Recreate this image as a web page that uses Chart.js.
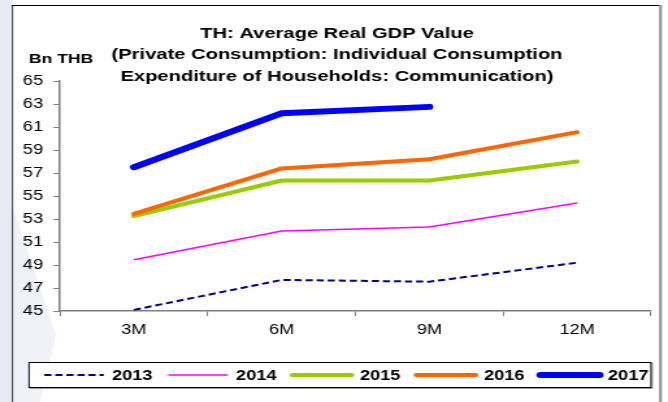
<!DOCTYPE html>
<html>
<head>
<meta charset="utf-8">
<script src="https://cdn.jsdelivr.net/npm/chart.js@4.4.1/dist/chart.umd.min.js"></script>
<style>
  html, body { margin: 0; padding: 0; background: #fff; }
  #gdpChart { display: block; }
</style>
</head>
<body>
<canvas id="gdpChart" width="514" height="402" style="width:668px;height:402px"></canvas>
<script>
const periods = ['3M', '6M', '9M', '12M'];
const gdp2013 = [45.1, 47.7, 47.55, 49.2];
const gdp2014 = [49.45, 51.95, 52.3, 54.4];
const gdp2015 = [53.25, 56.35, 56.35, 58.0];
const gdp2016 = [53.45, 57.4, 58.2, 60.55];
const gdp2017 = [57.5, 62.2, 62.75, null];
const yMin = 45;
const yMax = 65;
const yStep = 2;

const titleLines = [
    'TH: Average Real GDP Value',
    '(Private Consumption: Individual Consumption',
    'Expenditure of Households: Communication)'
];
const unitLabel = 'Bn THB';

const FONT = '"Liberation Sans", Arial, sans-serif';
// canvas is drawn narrower and stretched to 668px wide
const SX = 668 / 514;

const pageBackground = {
    id: 'pageBackground',
    beforeDraw(chart) {
        const ctx = chart.ctx;
        const w = chart.width, h = chart.height;
        ctx.save();
        ctx.fillStyle = '#fff';
        ctx.fillRect(0, 0, w, h);
        // lavender strip on the left
        ctx.fillStyle = '#e9e9f4';
        ctx.fillRect(0, 0, 12 / SX, h);
        // faint wedge in the lower left corner
        ctx.fillStyle = 'rgba(232,232,244,0.6)';
        ctx.beginPath();
        ctx.moveTo(12 / SX, 205);
        ctx.lineTo(56 / SX, 335);
        ctx.lineTo(40 / SX, h);
        ctx.lineTo(12 / SX, h);
        ctx.closePath();
        ctx.fill();
        // frame
        ctx.strokeStyle = '#000';
        ctx.lineWidth = 1;
        ctx.beginPath();
        ctx.moveTo(12 / SX, 5.5);
        ctx.lineTo(660 / SX, 5.5);
        ctx.stroke();
        ctx.lineWidth = 1 / SX;
        ctx.beginPath();
        ctx.moveTo(12.5 / SX, 5);
        ctx.lineTo(12.5 / SX, h);
        ctx.stroke();
        ctx.strokeStyle = '#9a9a9a';
        ctx.lineWidth = 3 / SX;
        ctx.beginPath();
        ctx.moveTo(660.5 / SX, 5);
        ctx.lineTo(660.5 / SX, h);
        ctx.stroke();
        ctx.restore();
    }
};

const titleBlock = {
    id: 'titleBlock',
    afterDraw(chart) {
        const ctx = chart.ctx;
        ctx.save();
        ctx.fillStyle = '#000';
        ctx.textBaseline = 'alphabetic';
        ctx.font = 'bold 15.5px ' + FONT;
        ctx.textAlign = 'center';
        titleLines.forEach((line, i) => {
            ctx.fillText(line, 337 / SX, 37.5 + i * 21.5);
        });
        ctx.textAlign = 'left';
        ctx.font = 'bold 13.5px ' + FONT;
        ctx.fillText(unitLabel, 29 / SX, 63);
        ctx.restore();
    }
};

const legendBox = {
    id: 'legendBox',
    afterDraw(chart) {
        const ctx = chart.ctx;
        const left = 29 / SX, right = 651 / SX;
        const top = 362.5, bottom = 387.5;
        ctx.save();
        ctx.strokeStyle = '#9a9a9a';
        ctx.lineWidth = 1;
        ctx.strokeRect(left + 1, top + 1, right - left, bottom - top);
        ctx.fillStyle = '#fff';
        ctx.fillRect(left, top, right - left, bottom - top);
        ctx.strokeStyle = '#000';
        ctx.strokeRect(left, top, right - left, bottom - top);
        chart.data.datasets.forEach((ds, i) => {
            const x = (43 + i * 124) / SX;
            const y = 375;
            ctx.beginPath();
            ctx.setLineDash(ds.borderDash || []);
            ctx.lineWidth = ds.borderWidth;
            ctx.strokeStyle = ds.borderColor;
            ctx.lineCap = ds.borderCapStyle || 'butt';
            ctx.moveTo(x + 1, y);
            ctx.lineTo(x + 62 / SX - 1, y);
            ctx.stroke();
            ctx.setLineDash([]);
            ctx.fillStyle = '#000';
            ctx.font = 'bold 14px ' + FONT;
            ctx.textBaseline = 'middle';
            ctx.textAlign = 'left';
            ctx.fillText(ds.label, x + 69 / SX, y + 1);
        });
        ctx.restore();
    }
};

const data = {
    labels: periods,
    datasets: [{
        label: '2013',
        data: gdp2013,
        borderColor: '#000080',
        borderWidth: 2,
        borderDash: [5.5, 3],
        order: 5
    }, {
        label: '2014',
        data: gdp2014,
        borderColor: '#ff00ff',
        borderWidth: 1.5,
        order: 4
    }, {
        label: '2015',
        data: gdp2015,
        borderColor: '#99cc00',
        borderWidth: 4,
        borderCapStyle: 'round',
        order: 3
    }, {
        label: '2016',
        data: gdp2016,
        borderColor: '#ff6600',
        borderWidth: 4,
        borderCapStyle: 'round',
        order: 2
    }, {
        label: '2017',
        data: gdp2017,
        borderColor: '#0000ff',
        borderWidth: 6,
        borderCapStyle: 'round',
        order: 1
    }]
};

const config = {
    type: 'line',
    data: data,
    options: {
        responsive: false,
        animation: false,
        devicePixelRatio: 1,
        clip: false,
        layout: { padding: { top: 81, left: 0, right: 514 - 651 / SX, bottom: 0 } },
        elements: {
            line: { tension: 0, fill: false, borderJoinStyle: 'round' },
            point: { radius: 0, hoverRadius: 0 }
        },
        plugins: {
            legend: { display: false },
            title: { display: false },
            tooltip: { enabled: false }
        },
        scales: {
            x: {
                offset: true,
                afterFit: (scale) => { scale.height = 402 - 311; },
                grid: {
                    display: true,
                    offset: true,
                    drawOnChartArea: false,
                    tickLength: 5,
                    color: '#7f7f7f',
                    lineWidth: 1
                },
                border: { color: '#7f7f7f', width: 1.5 },
                ticks: {
                    color: '#000',
                    padding: 6,
                    maxRotation: 0,
                    font: { family: FONT, size: 14 }
                }
            },
            y: {
                min: yMin,
                max: yMax,
                afterFit: (scale) => { scale.width = 60 / SX; },
                grid: {
                    display: true,
                    drawOnChartArea: false,
                    tickLength: 5,
                    color: '#7f7f7f',
                    lineWidth: 1
                },
                border: { color: '#7f7f7f', width: 1.5 },
                ticks: {
                    stepSize: yStep,
                    color: '#000',
                    padding: 8,
                    font: { family: FONT, size: 14 }
                }
            }
        }
    },
    plugins: [pageBackground, titleBlock, legendBox]
};

// eslint-disable-next-line
const gdpChart = new Chart(
    document.getElementById('gdpChart'),
    config
);
</script>
</body>
</html>
